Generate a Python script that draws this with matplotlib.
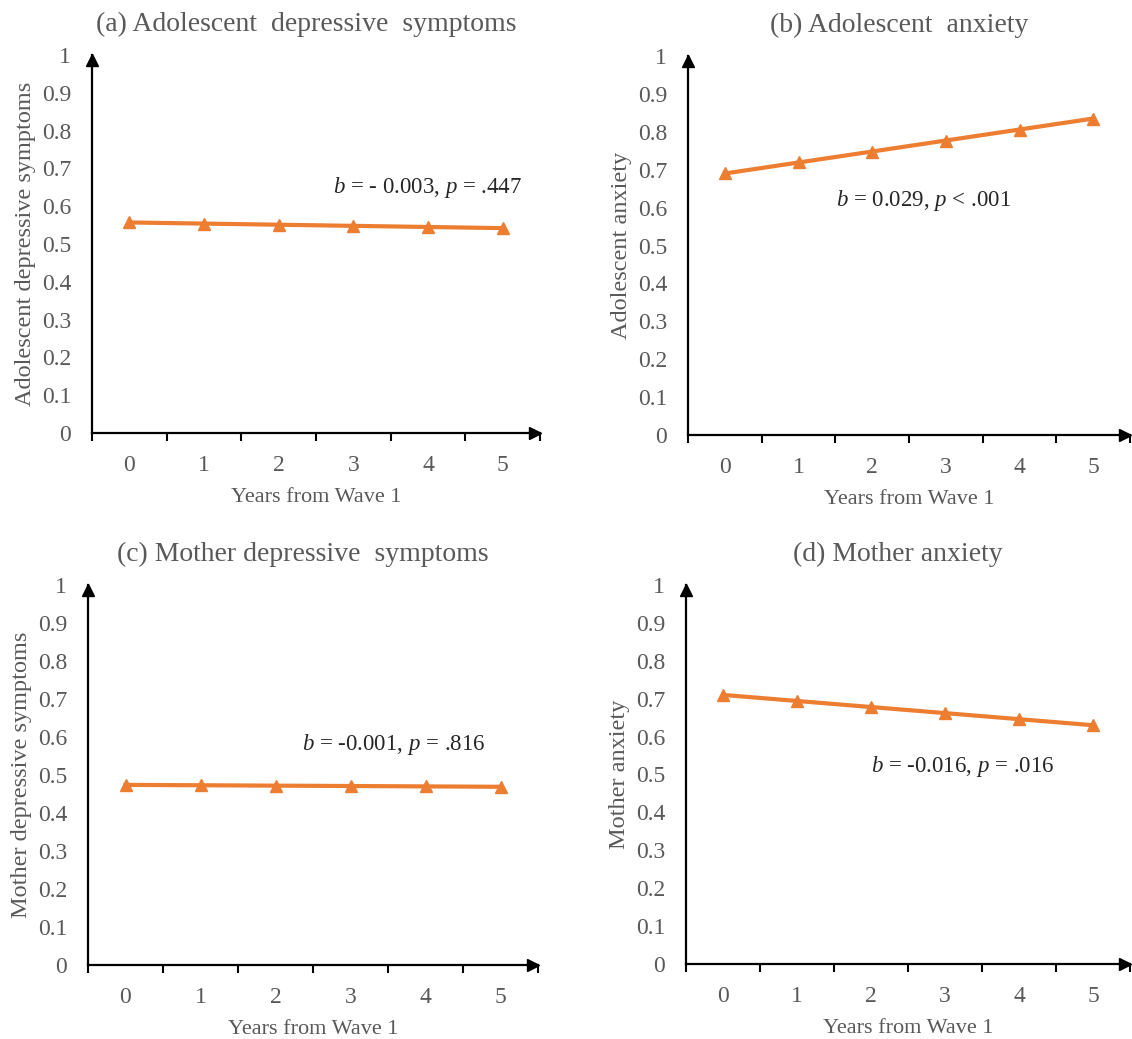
import matplotlib
matplotlib.use("Agg")
import matplotlib.pyplot as plt
import matplotlib.transforms as mtransforms
import numpy as np

plt.rcParams["font.family"] = ["Liberation Serif", "DejaVu Serif"]
plt.rcParams["mathtext.fontset"] = "custom"
plt.rcParams["mathtext.rm"] = "Liberation Serif"
plt.rcParams["mathtext.it"] = "Liberation Serif:italic"

years = [0, 1, 2, 3, 4, 5]

adol_dep = [0.557, 0.554, 0.551, 0.548, 0.545, 0.542]
adol_anx = [0.690, 0.719, 0.748, 0.777, 0.806, 0.835]
moth_dep = [0.474, 0.473, 0.472, 0.471, 0.470, 0.469]
moth_anx = [0.710, 0.694, 0.678, 0.662, 0.646, 0.630]

titles = ["(a) Adolescent  depressive  symptoms", "(b) Adolescent  anxiety",
          "(c) Mother depressive  symptoms", "(d) Mother anxiety"]
ylabels = ["Adolescent depressive symptoms", "Adolescent anxiety",
           "Mother depressive symptoms", "Mother anxiety"]
stats = [("- 0.003", "= .447"), ("0.029", "< .001"),
         ("-0.001", "= .816"), ("-0.016", "= .016")]
# annotation anchor (category x, value y)
stat_pos = [(3.99, 0.650), (2.70, 0.618), (3.58, 0.58), (3.24, 0.52)]
series = [adol_dep, adol_anx, moth_dep, moth_anx]

# axes rectangles in figure pixels: left, right, y0 (value 0), y1 (value 1)
W, H = 1132, 1039
rects = [(92, 540, 433, 55), (688, 1130, 435, 56),
         (88, 538, 965, 585), (686, 1130, 964, 585)]

ORANGE = "#ED7D31"
GRAY = "#595959"

fig = plt.figure(figsize=(W / 100, H / 100), dpi=100)

for i in range(4):
    l, r, y0, y1 = rects[i]
    ax = fig.add_axes([l / W, 1 - y0 / H, (r - l) / W, (y0 - y1) / H])
    ax.plot(years, series[i], color=ORANGE, linewidth=3, marker="^",
            markersize=8, markerfacecolor=ORANGE, markeredgecolor=ORANGE)
    ax.set_xlim(-0.5, 5.5)
    ax.set_ylim(0, 1)
    ax.set_yticks(np.arange(0, 1.01, 0.1))
    ax.set_yticklabels(["0"] + [f"{v:.1f}" for v in np.arange(0.1, 0.95, 0.1)] + ["1"])
    ax.set_xticks(years)
    ax.set_xticks(np.arange(-0.5, 5.6, 1), minor=True)
    ax.tick_params(axis="x", which="major", length=0, pad=15.5, labelsize=17,
                   labelcolor=GRAY)
    ax.tick_params(axis="x", which="minor", length=6, width=1.5, direction="out")
    ax.tick_params(axis="y", length=0, pad=15, labelsize=17, labelcolor=GRAY)
    for s in ["top", "right"]:
        ax.spines[s].set_visible(False)
    for s in ["left", "bottom"]:
        ax.spines[s].set_linewidth(1.6)
    # arrow heads, shifted so the tip sits at the axis end
    tr_x = mtransforms.offset_copy(ax.transAxes, fig=fig, x=-5, y=0, units="dots")
    tr_y = mtransforms.offset_copy(ax.transAxes, fig=fig, x=0, y=-5, units="dots")
    ax.plot(1.0, 0, ">k", markersize=8, transform=tr_x, clip_on=False)
    ax.plot(0, 1.0, "^k", markersize=8, transform=tr_y, clip_on=False)
    ax.set_xlabel("Years from Wave 1", fontsize=16, color=GRAY, labelpad=9)
    ax.set_ylabel(ylabels[i], fontsize=17.5, color=GRAY, labelpad=4)
    ax.set_title(titles[i], fontsize=20, color=GRAY, pad=17,
                 x=0.5 - 10 / (r - l))
    bv, pv = stats[i]
    sx, sy = stat_pos[i]
    ax.text(sx, sy, rf"$b$ = {bv}, $p$ {pv}", ha="center", va="center",
            fontsize=16.5, color="#262626")

fig.savefig("out.png", dpi=100)
